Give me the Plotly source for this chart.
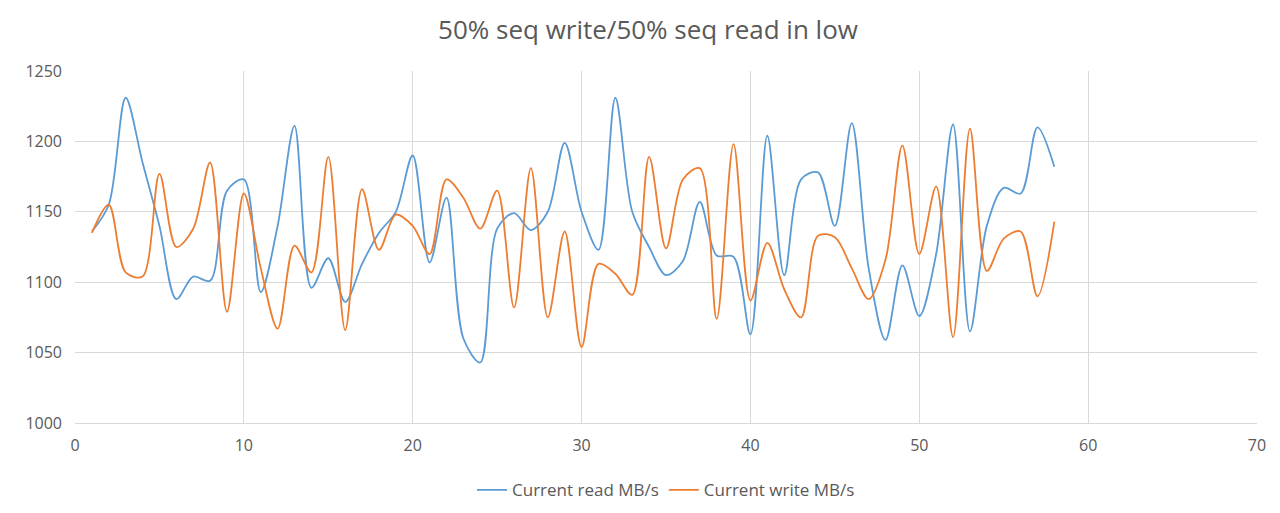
import plotly.graph_objects as go

x = list(range(1, 59))
read_mbs = [1136, 1155, 1231, 1185, 1140, 1088, 1104, 1101, 1165, 1173,
            1093, 1140, 1211, 1096, 1117, 1086, 1113, 1135, 1150, 1190,
            1114, 1160, 1060, 1043, 1138, 1149, 1137, 1150, 1199, 1150,
            1123, 1231, 1150, 1125, 1105, 1115, 1157, 1119, 1118, 1063,
            1204, 1105, 1173, 1178, 1140, 1213, 1110, 1059, 1112, 1076,
            1120, 1212, 1065, 1140, 1167, 1163, 1210, 1182]
write_mbs = [1135, 1155, 1107, 1104, 1177, 1125, 1138, 1185, 1079, 1163,
             1110, 1067, 1126, 1107, 1189, 1066, 1166, 1123, 1148, 1140,
             1120, 1173, 1160, 1138, 1165, 1082, 1181, 1075, 1136, 1054,
             1113, 1106, 1091, 1189, 1124, 1173, 1181, 1074, 1198, 1087,
             1128, 1095, 1075, 1133, 1132, 1110, 1088, 1116, 1197, 1120,
             1168, 1061, 1209, 1108, 1131, 1136, 1090, 1143]

fig = go.Figure()
fig.add_trace(go.Scatter(x=x, y=read_mbs, mode="lines", name="Current read MB/s",
                         line=dict(color="#5B9BD5", width=1.8, shape="spline", smoothing=0.9)))
fig.add_trace(go.Scatter(x=x, y=write_mbs, mode="lines", name="Current write MB/s",
                         line=dict(color="#ED7D31", width=1.8, shape="spline", smoothing=0.9)))

grid = "#D9D9D9"
fig.update_layout(
    width=1280, height=513, paper_bgcolor="white", plot_bgcolor="white",
    font=dict(family="Open Sans", size=16, color="#595959"),
    title=dict(text="50% seq write/50% seq read in low", x=0.5, y=0.957, yref="container",
               xanchor="center", yanchor="middle", automargin=False,
               font=dict(size=26, color="#595959")),
    margin=dict(l=67, r=31, t=63, b=98, autoexpand=False),
    legend=dict(orientation="h", x=0.5, xanchor="center", y=-0.14, yanchor="top",
                font=dict(size=17)),
    xaxis=dict(range=[0, 70], dtick=10, showgrid=True, gridcolor=grid,
               showline=True, linecolor=grid, zeroline=False, ticks="",
               ticklabelstandoff=8, automargin=False),
    yaxis=dict(range=[1000, 1250], dtick=50, showgrid=True, gridcolor=grid,
               zeroline=False, showline=False, ticks="",
               ticklabelstandoff=12, automargin=False),
)
fig.write_html("out.html")
